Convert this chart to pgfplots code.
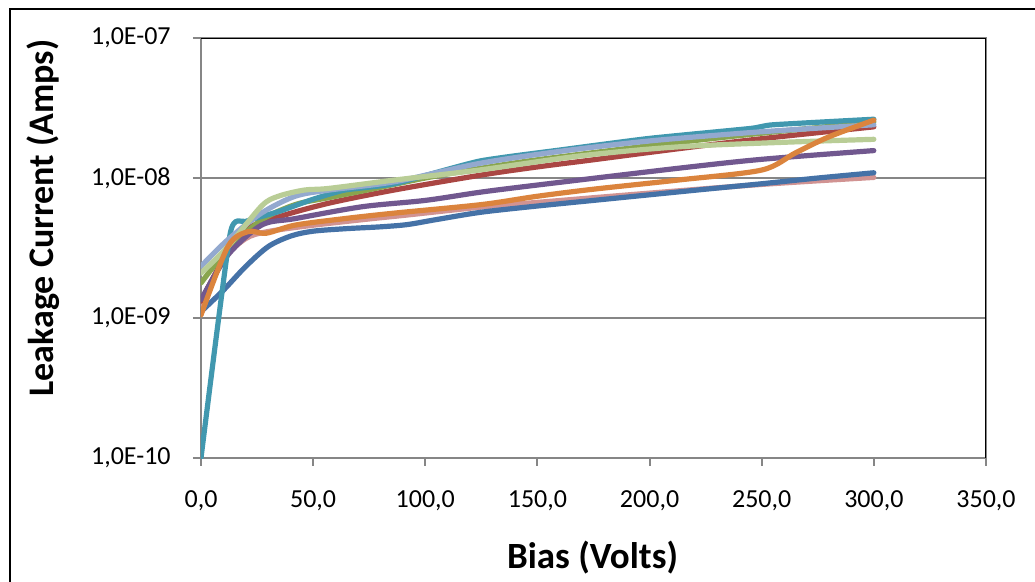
\documentclass[border=0pt]{standalone}
\usepackage{pgfplots}
\pgfplotsset{compat=1.18}
\usepackage{fontspec}
\setmainfont{Carlito}
\definecolor{axgray}{HTML}{868686}
\definecolor{sA}{HTML}{4572A7}
\definecolor{sB}{HTML}{AA4643}
\definecolor{sC}{HTML}{89A54E}
\definecolor{sD}{HTML}{71588F}
\definecolor{sE}{HTML}{4198AF}
\definecolor{sF}{HTML}{DB843D}
\definecolor{sG}{HTML}{93A9CF}
\definecolor{sH}{HTML}{D19392}
\definecolor{sI}{HTML}{B9CD96}
\begin{document}
\begin{tikzpicture}
\useasboundingbox (0,0) rectangle (517.5pt,291pt);
\draw[line width=1pt, black] (5pt,-10pt) -- (5pt,286.5pt) -- (530pt,286.5pt);
\begin{axis}[
  at={(100.5pt,62pt)}, anchor=south west,
  scale only axis, width=392.5pt, height=210pt,
  xmin=0, xmax=350, ymin=1e-10, ymax=1e-7, ymode=log,
  yminorticks=false,
  axis line style={draw=axgray, line width=1pt},
  xtick pos=bottom, ytick pos=left,
  tick align=outside, major tick length=4pt,
  tick style={axgray, line width=1pt},
  ymajorgrids, major grid style={axgray, line width=1pt},
  xtick={0,50,100,150,200,250,300,350},
  xticklabels={{0,0},{50,0},{100,0},{150,0},{200,0},{250,0},{300,0},{350,0}},
  ytick={1e-10,1e-9,1e-8,1e-7},
  yticklabels={{1,0E-10},{1,0E-09},{1,0E-08},{1,0E-07}},
  ticklabel style={font=\fontsize{13}{15}\selectfont, text=black},
  xticklabel style={anchor=north, inner sep=0pt},
  yticklabel style={anchor=east, inner sep=0pt},
  xticklabel shift=12pt,
  yticklabel shift=11pt,
  every axis plot/.append style={line width=2.6pt, line cap=round, line join=round, smooth, tension=0.5},
]
\addplot[sH] coordinates {(0,1.25e-9)(10,2.6e-9)(20,3.7e-9)(30,4.15e-9)(50,4.6e-9)(75,5.1e-9)(90,5.4e-9)(125,6.2e-9)(150,6.7e-9)(200,7.8e-9)(250,9.0e-9)(300,1.01e-8)};
\addplot[sA] coordinates {(0,1.11e-9)(10,1.58e-9)(20,2.34e-9)(30,3.24e-9)(40,3.85e-9)(50,4.17e-9)(65,4.35e-9)(80,4.48e-9)(92,4.65e-9)(105,5.05e-9)(125,5.7e-9)(150,6.31e-9)(175,6.92e-9)(200,7.59e-9)(225,8.32e-9)(250,9.10e-9)(275,1.0e-8)(300,1.09e-8)};
\addplot[sB] coordinates {(0,1.32e-9)(10,2.63e-9)(20,4.27e-9)(35,5.30e-9)(57,6.61e-9)(86,8.20e-9)(125,1.05e-8)(150,1.20e-8)(175,1.35e-8)(213,1.62e-8)(250,1.91e-8)(300,2.32e-8)};
\addplot[sC] coordinates {(0,1.78e-9)(12,3.09e-9)(27,5.01e-9)(42,6.46e-9)(57,7.24e-9)(79,8.51e-9)(100,1.0e-8)(125,1.175e-8)(150,1.35e-8)(200,1.70e-8)(250,2.09e-8)(300,2.51e-8)};
\addplot[sD] coordinates {(0,1.35e-9)(12,2.82e-9)(27,4.61e-9)(42,5.13e-9)(72,6.24e-9)(100,6.92e-9)(125,7.94e-9)(150,8.91e-9)(213,1.175e-8)(250,1.36e-8)(300,1.57e-8)};
\addplot[sE, tension=0.3] coordinates {(0,1e-10)(13,4.0e-9)(20,4.9e-9)(34.5,5.75e-9)(49,6.97e-9)(64,8.2e-9)(86.5,9.12e-9)(124,1.32e-8)(160,1.585e-8)(200,1.92e-8)(245,2.26e-8)(255,2.40e-8)(300,2.63e-8)};
\addplot[sG] coordinates {(0,2.34e-9)(12,3.63e-9)(27,5.62e-9)(42,7.41e-9)(57,8.2e-9)(86.5,9.42e-9)(124,1.27e-8)(160,1.55e-8)(200,1.84e-8)(250,2.14e-8)(300,2.40e-8)};
\addplot[sI] coordinates {(0,2.09e-9)(12,3.24e-9)(27,6.31e-9)(34.5,7.41e-9)(46,8.2e-9)(57,8.43e-9)(86.5,9.68e-9)(124,1.14e-8)(170,1.445e-8)(213,1.67e-8)(260,1.80e-8)(300,1.89e-8)};
\addplot[sF] coordinates {(0,1.05e-9)(12,3.24e-9)(21,4.14e-9)(29,4.03e-9)(42,4.61e-9)(64,5.13e-9)(86.5,5.62e-9)(125,6.46e-9)(150,7.41e-9)(175,8.32e-9)(213,9.68e-9)(250,1.14e-8)(265,1.51e-8)(280,1.97e-8)(300,2.59e-8)};
\draw[black, line width=1pt] (rel axis cs:0,1) -- (rel axis cs:1,1) -- (rel axis cs:1,0);
\end{axis}
\node[rotate=90, anchor=base, font=\fontsize{18}{20}\selectfont\bfseries] at (26.5pt,182pt) {Leakage Current (Amps)};
\node[anchor=base, font=\fontsize{18.5}{20}\selectfont\bfseries] at (296.25pt,6.5pt) {Bias (Volts)};
\end{tikzpicture}
\end{document}
